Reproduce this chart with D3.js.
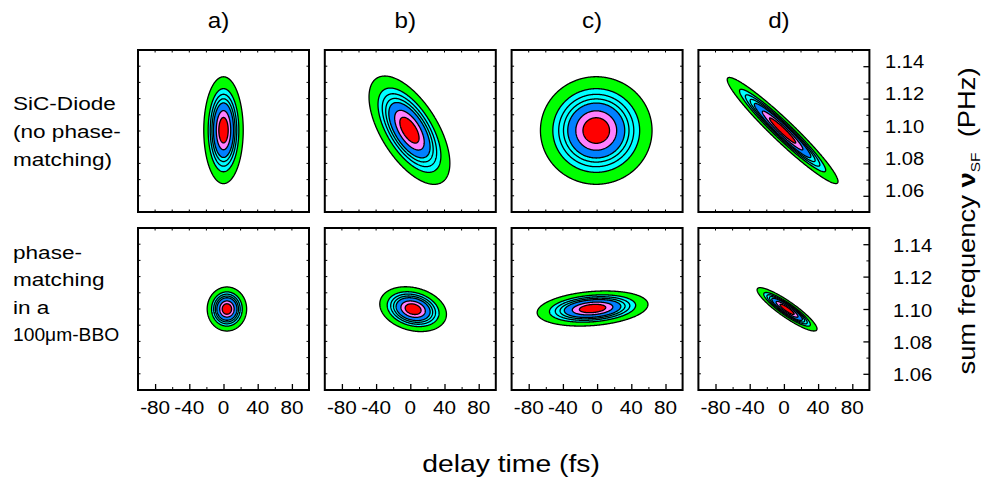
<!DOCTYPE html>
<html>
<head>
<meta charset="utf-8">
<script src="https://cdn.jsdelivr.net/npm/d3@7"></script>
<style>
  html, body { margin: 0; padding: 0; background: #fff; }
  svg { display: block; }
  text { font-family: "Liberation Sans", Arial, Helvetica, sans-serif; fill: #000; }
</style>
</head>
<body>
<svg id="chart" width="982" height="477"></svg>
<script>
// Column captions and row descriptions
const panelLabels = ["a)", "b)", "c)", "d)"];
const rowLabels = [
  ["SiC-Diode", "(no phase-", "matching)"],
  ["phase-", "matching", "in a", "100\u03bcm-BBO"]
];

// Axis ticks
const delayTicks = [-80, -40, 0, 40, 80];
const delayMinorTicks = [-60, -20, 20, 60];
const freqTicks = [1.06, 1.08, 1.10, 1.12, 1.14];
const freqMinorTicks = [1.07, 1.09, 1.11, 1.13];
const delayDomain = [-100, 100];
const freqDomain = [1.05, 1.15];

// Contour levels (normalized signal) and their fill colours
const levels = [0.07, 0.2, 0.3, 0.4, 0.5, 0.7, 0.86];
const levelColors = ["#00ff00", "#00ffff", "#00ffff", "#00ffff", "#0080ff", "#ff80ff", "#ff0000"];

// Gaussian trace parameters, columns a)..d)
// row 1: SiC diode (no phase matching)
const sicDelay0 = [0, -1, -1, -1.5];          // fs
const sicFreq0 = [1.1005, 1.1005, 1.1003, 1.1003]; // PHz
const sicSigmaDelay = [10.0, 20.5, 28.3, 28.1];    // fs
const sicSigmaFreq = [0.0143, 0.0145, 0.0144, 0.0142]; // PHz
const sicCorr = [0, -0.61, 0, -0.96];
// row 2: phase matching in a 100 um BBO
const bboDelay0 = [4, 3.3, -5.3, 3.7];
const bboFreq0 = [1.1, 1.0999, 1.1003, 1.0998];
const bboSigmaDelay = [10.0, 16.9, 28.1, 15.2];
const bboSigmaFreq = [0.0059, 0.0060, 0.0047, 0.0058];
const bboCorr = [0, -0.23, 0.23, -0.9];

const rows = [
  { t0: sicDelay0, f0: sicFreq0, st: sicSigmaDelay, sf: sicSigmaFreq, rho: sicCorr },
  { t0: bboDelay0, f0: bboFreq0, st: bboSigmaDelay, sf: bboSigmaFreq, rho: bboCorr }
];

// Layout
const panelW = 171, panelH = 162;
const panelX0 = 138, panelStep = 186.8;
const rowTop = [50, 228];
const SX = 1.2; // horizontal glyph stretch of the typeface

const svg = d3.select("#chart");

function stretchedText(parent, x, y, str, size, anchor, sx) {
  return parent.append("text")
    .attr("transform", `translate(${x},${y}) scale(${sx || SX},1)`)
    .attr("text-anchor", anchor || "start")
    .style("font-size", size + "px")
    .text(str);
}

const N = 301;
const gridDelay = d3.range(N).map(i => delayDomain[0] + i * (delayDomain[1] - delayDomain[0]) / (N - 1));
const gridFreq = d3.range(N).map(j => freqDomain[0] + j * (freqDomain[1] - freqDomain[0]) / (N - 1));

rows.forEach((p, r) => {
  for (let c = 0; c < 4; c++) {
    const x0 = panelX0 + c * panelStep;
    const y0 = rowTop[r];
    const x = d3.scaleLinear().domain(delayDomain).range([x0, x0 + panelW]);
    const y = d3.scaleLinear().domain(freqDomain).range([y0 + panelH, y0]);
    const g = svg.append("g");

    // 2D Gaussian trace sampled on a grid
    const t0 = p.t0[c], f0 = p.f0[c], st = p.st[c], sf = p.sf[c], rho = p.rho[c];
    const values = new Float64Array(N * N);
    for (let j = 0; j < N; j++) {
      for (let i = 0; i < N; i++) {
        const u = (gridDelay[i] - t0) / st;
        const v = (gridFreq[j] - f0) / sf;
        const q = (u * u - 2 * rho * u * v + v * v) / (1 - rho * rho);
        values[j * N + i] = Math.exp(-q / 2);
      }
    }
    const contours = d3.contours().size([N, N]).thresholds(levels)(values);
    const dStep = (delayDomain[1] - delayDomain[0]) / (N - 1);
    const fStep = (freqDomain[1] - freqDomain[0]) / (N - 1);
    const proj = d3.geoTransform({
      point: function(px, py) {
        this.stream.point(
          x(delayDomain[0] + (px - 0.5) * dStep),
          y(freqDomain[0] + (py - 0.5) * fStep)
        );
      }
    });
    const path = d3.geoPath(proj);
    g.append("clipPath").attr("id", `clip-${r}-${c}`)
      .append("rect").attr("x", x0).attr("y", y0).attr("width", panelW).attr("height", panelH);
    g.append("g").attr("clip-path", `url(#clip-${r}-${c})`)
      .selectAll("path").data(contours).join("path")
      .attr("d", path)
      .attr("fill", (d, k) => levelColors[k])
      .attr("stroke", "#000")
      .attr("stroke-width", 1.3)
      .attr("stroke-linejoin", "round");

    // small inside ticks on every side
    const minorLen = 2.5;
    const allDelay = delayTicks.concat(delayMinorTicks);
    const allFreq = freqTicks.concat(freqMinorTicks);
    const tk = g.append("g").attr("stroke", "#000").attr("stroke-width", 1);
    allDelay.forEach(t => {
      tk.append("line").attr("x1", x(t)).attr("x2", x(t)).attr("y1", y0).attr("y2", y0 + minorLen);
      if (r === 0) tk.append("line").attr("x1", x(t)).attr("x2", x(t)).attr("y1", y0 + panelH).attr("y2", y0 + panelH - minorLen);
    });
    allFreq.forEach(f => {
      tk.append("line").attr("x1", x0).attr("x2", x0 + minorLen).attr("y1", y(f)).attr("y2", y(f));
      if (c < 3) tk.append("line").attr("x1", x0 + panelW).attr("x2", x0 + panelW - minorLen).attr("y1", y(f)).attr("y2", y(f));
    });

    // bottom axis of the lower row
    if (r === 1) {
      const ax = d3.axisBottom(x).tickValues(delayTicks).tickSizeInner(-6).tickSizeOuter(0).tickFormat("");
      const axg = g.append("g").attr("transform", `translate(0,${y0 + panelH})`).call(ax);
      axg.select(".domain").remove();
      axg.selectAll("line").attr("stroke-width", 1.3);
      const axm = d3.axisBottom(x).tickValues(delayMinorTicks).tickSizeInner(-3).tickSizeOuter(0).tickFormat("");
      const amg = g.append("g").attr("transform", `translate(0,${y0 + panelH})`).call(axm);
      amg.select(".domain").remove();
      delayTicks.forEach(t => stretchedText(g, x(t), 414, String(t), 18.5, "middle", 1.12));
    }

    // right axis of column d)
    if (c === 3) {
      const ay = d3.axisRight(y).tickValues(freqTicks).tickSizeInner(-6).tickSizeOuter(0).tickFormat("");
      const ayg = g.append("g").attr("transform", `translate(${x0 + panelW},0)`).call(ay);
      ayg.select(".domain").remove();
      ayg.selectAll("line").attr("stroke-width", 1.3);
      const aym = d3.axisRight(y).tickValues(freqMinorTicks).tickSizeInner(-3).tickSizeOuter(0).tickFormat("");
      const amy = g.append("g").attr("transform", `translate(${x0 + panelW},0)`).call(aym);
      amy.select(".domain").remove();
      const lx = r === 0 ? 885 : 893;
      const dy = r === 0 ? -5 : 1;
      freqTicks.forEach(f => stretchedText(g, lx, y(f) + dy + 6.5, f.toFixed(2), 18, "start", 1.12));
    }

    // frame
    g.append("rect").attr("x", x0).attr("y", y0).attr("width", panelW).attr("height", panelH)
      .attr("fill", "none").attr("stroke", "#000").attr("stroke-width", 2);

    if (r === 0) stretchedText(svg, x0 + panelW / 2 - 5, 28, panelLabels[c], 22, "middle", 1.1);
  }
});

// row descriptions
const rowBase = [[109.5, 137.8, 166], [258.5, 286, 313.5, 341]];
const rowStretch = [[1.22, 1.22, 1.22], [1.22, 1.22, 1.22, 1.04]];
rowLabels.forEach((lines, r) => {
  lines.forEach((s, k) => stretchedText(svg, 13, rowBase[r][k], s, 18.5, "start", rowStretch[r][k]));
});

// x-axis title
stretchedText(svg, 511, 472, "delay time (fs)", 24, "middle", 1.18);

// y-axis title (right side, rotated)
const yt = svg.append("text")
  .attr("transform", `translate(975,221) rotate(-90) scale(1.19,1)`)
  .attr("text-anchor", "middle")
  .style("font-size", "23px");
yt.append("tspan").text("sum frequency ");
yt.append("tspan").style("font-weight", "bold").text("\u03bd");
yt.append("tspan").attr("dy", 5).style("font-size", "13px").text("SF");
yt.append("tspan").attr("dy", -5).text("\u00a0\u00a0(PHz)");
</script>
</body>
</html>
